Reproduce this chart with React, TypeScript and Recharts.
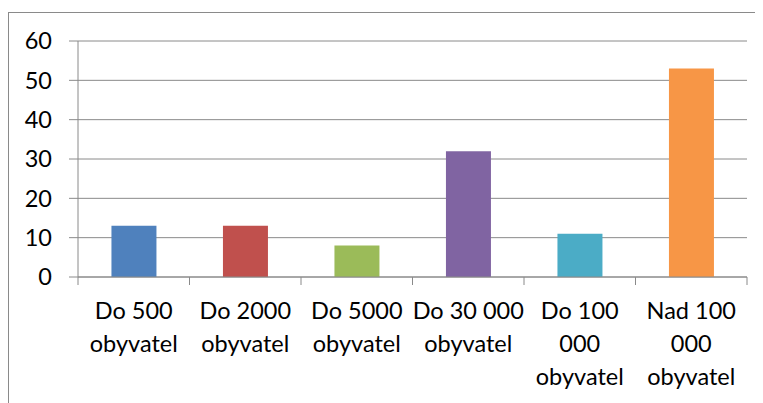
import { Bar, BarChart, CartesianGrid, Cell, XAxis, YAxis } from "recharts"

const categories = [
  "Do 500 obyvatel",
  "Do 2000 obyvatel",
  "Do 5000 obyvatel",
  "Do 30 000 obyvatel",
  "Do 100 000 obyvatel",
  "Nad 100 000 obyvatel",
]

// how Excel wrapped each category label
const labelLines = [
  ["Do 500", "obyvatel"],
  ["Do 2000", "obyvatel"],
  ["Do 5000", "obyvatel"],
  ["Do 30 000", "obyvatel"],
  ["Do 100", "000", "obyvatel"],
  ["Nad 100", "000", "obyvatel"],
]

const values = [13, 13, 8, 32, 11, 53]

const barColors = ["#4F81BD", "#C0504D", "#9BBB59", "#8064A2", "#4BACC6", "#F79646"]

const yTicks = [0, 10, 20, 30, 40, 50, 60]

const gray = "#8a8a8a"
const fontSize = 23.5

const data = categories.map((name, i) => ({ name, value: values[i] }))

// label plus the little tick marks sitting on the category boundaries
function CategoryTick(props: any) {
  const { x, y, payload } = props
  const idx = categories.indexOf(payload.value)
  const lines = labelLines[idx] || [payload.value]
  const half = payload.offset || 0
  return (
    <g>
      <line x1={x - half} x2={x - half} y1={y} y2={y + 8} stroke={gray} />
      {idx === categories.length - 1 && (
        <line x1={x + half} x2={x + half} y1={y} y2={y + 8} stroke={gray} />
      )}
      <text x={x} y={y} textAnchor="middle" fill="#000" fontSize={fontSize}>
        {lines.map((line: string, i: number) => (
          <tspan key={i} x={x} dy={i === 0 ? 42 : 33}>
            {line}
          </tspan>
        ))}
      </text>
    </g>
  )
}

export default function App() {
  return (
    <div style={{ position: "relative", width: 755, height: 395, overflow: "hidden", fontFamily: "Lato, sans-serif" }}>
      <div
        style={{
          position: "absolute",
          left: 0,
          top: 4,
          width: 754,
          height: 420,
          border: `1px solid ${gray}`,
          boxSizing: "border-box",
        }}
      />
      <div style={{ position: "absolute", left: 0, top: 0 }}>
        <BarChart
          width={755}
          height={395}
          data={data}
          margin={{ top: 33, right: 16, left: 10, bottom: 16 }}
          barCategoryGap="30%"
        >
          <CartesianGrid vertical={false} stroke={gray} strokeWidth={1} />
          <XAxis
            dataKey="name"
            interval={0}
            stroke={gray}
            tickLine={false}
            tickSize={0}
            tickMargin={0}
            tick={<CategoryTick />}
            height={110}
          />
          <YAxis
            domain={[0, 60]}
            ticks={yTicks}
            width={60}
            tickSize={9}
            tickMargin={17}
            stroke={gray}
            tick={{ fill: "#000", fontSize }}
          />
          <Bar dataKey="value" isAnimationActive={false}>
            {data.map((_, i) => (
              <Cell key={i} fill={barColors[i]} />
            ))}
          </Bar>
        </BarChart>
      </div>
    </div>
  )
}
